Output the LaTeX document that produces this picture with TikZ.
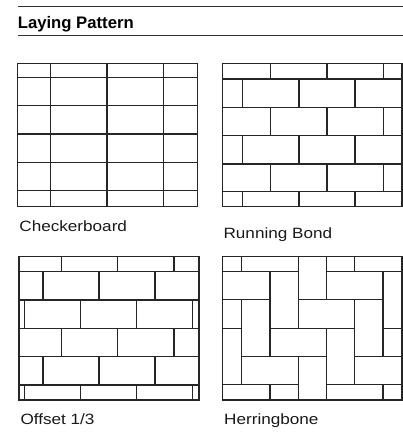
\documentclass[tikz,border=0pt]{standalone}
\usepackage{fontspec}
\setmainfont{Liberation Sans}
\newfontfamily\labfont[FakeStretch=1.15]{Liberation Sans}
\begin{document}
\begin{tikzpicture}[x=1pt,y=-1pt,
  tile/.style={line width=1.1pt,draw=black!85},
  rule/.style={line width=1pt,draw=black!80},
  lab/.style={anchor=base west,inner sep=0pt,font=\labfont\fontsize{14.9}{18}\selectfont,text=black!90},
  ttl/.style={anchor=base west,inner sep=0pt,font=\bfseries\fontsize{16.7}{20}\selectfont,text=black}]
\useasboundingbox (0,0) rectangle (403,432);
% title
\draw[rule] (18,6) -- (403,6);
\draw[rule] (18,35.3) -- (403,35.3);
\node[ttl] (title) at (17.6,28) {Laying Pattern};
% ---------- Checkerboard ----------
\foreach \y in {77.3,105.7,134,162.3,190.7} \draw[tile] (17.3,\y) -- (197.3,\y);
\foreach \x in {50.7,107,163.3} \draw[tile] (\x,63.3) -- (\x,206.7);
\draw[tile] (17.3,63.3) rectangle (197.3,206.7);
\node[lab] (l1) at (19.2,231.7) {Checkerboard};
% ---------- Running Bond ----------
\foreach \y in {79,107.3,135.7,164,191.7} \draw[tile] (222.3,\y) -- (402,\y);
\foreach \ya/\yb in {63.3/79,107.3/135.7,164/191.7}
  \foreach \x in {270.7,327,383.3} \draw[tile] (\x,\ya) -- (\x,\yb);
\foreach \ya/\yb in {79/107.3,135.7/164,191.7/206.7}
  \foreach \x in {242.7,299,355} \draw[tile] (\x,\ya) -- (\x,\yb);
\draw[tile] (222.3,63.3) rectangle (402,206.7);
\node[lab] (l2) at (223.4,238.8) {Running Bond};
% ---------- Offset 1/3 ----------
\foreach \y in {271.7,300,328.3,356.7,385} \draw[tile] (19,\y) -- (199,\y);
\foreach \ya/\yb in {256.7/271.7,328.3/356.7}
  \foreach \x in {61.7,117.7,174} \draw[tile] (\x,\ya) -- (\x,\yb);
\foreach \ya/\yb in {271.7/300,356.7/385}
  \foreach \x in {43,99,155} \draw[tile] (\x,\ya) -- (\x,\yb);
\foreach \ya/\yb in {300/328.3,385/400}
  \foreach \x in {24.3,80.3,136.7,192.7} \draw[tile] (\x,\ya) -- (\x,\yb);
\draw[tile] (19,256.7) rectangle (199,400);
\node[lab] (l3) at (20.3,424) {Offset 1/3};
% ---------- Herringbone ----------
\begin{scope}
\clip (222.3,256.7) rectangle (402,400);
\foreach \n in {-2,...,3}{
  \foreach \k in {-2,...,6}{
    \pgfmathtruncatemacro\j{3+4*\n-\k}
    \pgfmathsetmacro\xa{241.7+28.25*\j}
    \pgfmathsetmacro\xb{241.7+28.25*(\j+1)}
    \pgfmathsetmacro\xc{241.7+28.25*(\j+2)}
    \pgfmathsetmacro\ya{271.6+28.25*(\k-2)}
    \pgfmathsetmacro\yb{271.6+28.25*\k}
    \pgfmathsetmacro\yc{271.6+28.25*(\k+1)}
    \draw[tile] (\xa,\yb) rectangle (\xc,\yc);
    \draw[tile] (\xa,\ya) rectangle (\xb,\yb);
  }
}
\end{scope}
\draw[tile] (222.3,256.7) rectangle (402,400);
\node[lab] (l4) at (224,424.6) {Herringbone};
\end{tikzpicture}
\end{document}
